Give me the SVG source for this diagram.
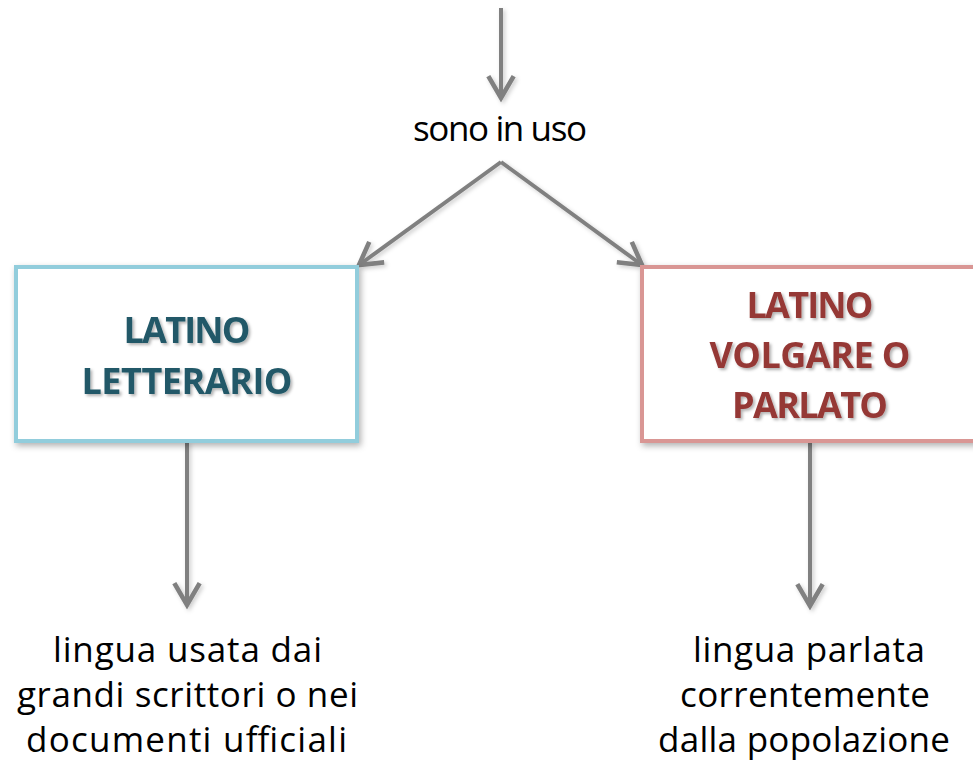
<svg xmlns="http://www.w3.org/2000/svg" width="973" height="767" viewBox="0 0 973 767">
<defs>
<style>
.conn{stroke:#808080;stroke-width:4;fill:none;filter:url(#lsh)}
.box{fill:#ffffff;stroke-width:4;filter:url(#bsh)}
.title{font-family:"Open Sans","Noto Sans","Liberation Sans",sans-serif;font-weight:bold;font-size:36px;text-anchor:middle;filter:url(#tsh)}
.body{font-family:"Open Sans","Noto Sans","Liberation Sans",sans-serif;font-size:35px;fill:#000000;text-anchor:middle}
</style>
<marker id="arr" markerUnits="userSpaceOnUse" markerWidth="30" markerHeight="30" viewBox="-22 -12 26 24" refX="0" refY="0" orient="auto">
<path d="M-19,-11 L0,0 L-19,11" fill="none" stroke="#808080" stroke-width="4" stroke-linejoin="miter"/>
</marker>
<filter id="bsh" x="-10%" y="-10%" width="130%" height="130%">
<feDropShadow dx="2" dy="3" stdDeviation="3" flood-color="#000" flood-opacity="0.3"/>
</filter>
<filter id="lsh" filterUnits="userSpaceOnUse" x="0" y="0" width="973" height="767">
<feDropShadow dx="2" dy="2" stdDeviation="2" flood-color="#000" flood-opacity="0.2"/>
</filter>
<filter id="tsh" x="-10%" y="-20%" width="130%" height="150%">
<feDropShadow dx="2" dy="2" stdDeviation="1.5" flood-color="#000" flood-opacity="0.3"/>
</filter>
</defs>
<rect width="973" height="767" fill="#ffffff"/>

<g id="connectors">
<path class="conn" d="M501,8 L501,98" marker-end="url(#arr)"/>
<path class="conn" d="M501,162 L359,265" marker-end="url(#arr)"/>
<path class="conn" d="M501,162 L642,265" marker-end="url(#arr)"/>
<path class="conn" d="M187,442 L187,605" marker-end="url(#arr)"/>
<path class="conn" d="M810,442 L810,606" marker-end="url(#arr)"/>
</g>

<g id="label-sono">
<text class="body" x="500" y="141" font-size="28" textLength="174">sono in uso</text>
</g>

<g id="node-letterario">
<rect class="box" x="16" y="267" width="341" height="174" stroke="#92cddc"/>
<text class="title" fill="#215968" x="187" y="343" textLength="127">LATINO</text>
<text class="title" fill="#215968" x="187" y="394" textLength="211">LETTERARIO</text>
</g>

<g id="node-volgare">
<rect class="box" x="642" y="267" width="345" height="174" stroke="#d99694"/>
<text class="title" fill="#953735" x="810" y="318" textLength="127">LATINO</text>
<text class="title" fill="#953735" x="810" y="368" textLength="201">VOLGARE O</text>
<text class="title" fill="#953735" x="810" y="418" textLength="156">PARLATO</text>
</g>

<g id="desc-letterario">
<text class="body" x="187.5" y="662" textLength="269">lingua usata dai</text>
<text class="body" x="187.5" y="707" textLength="341">grandi scrittori o nei</text>
<text class="body" x="186.5" y="752" textLength="321">documenti ufficiali</text>
</g>

<g id="desc-volgare">
<text class="body" x="809" y="662" textLength="232">lingua parlata</text>
<text class="body" x="805" y="707" textLength="250">correntemente</text>
<text class="body" x="804" y="752" textLength="292">dalla popolazione</text>
</g>
</svg>
